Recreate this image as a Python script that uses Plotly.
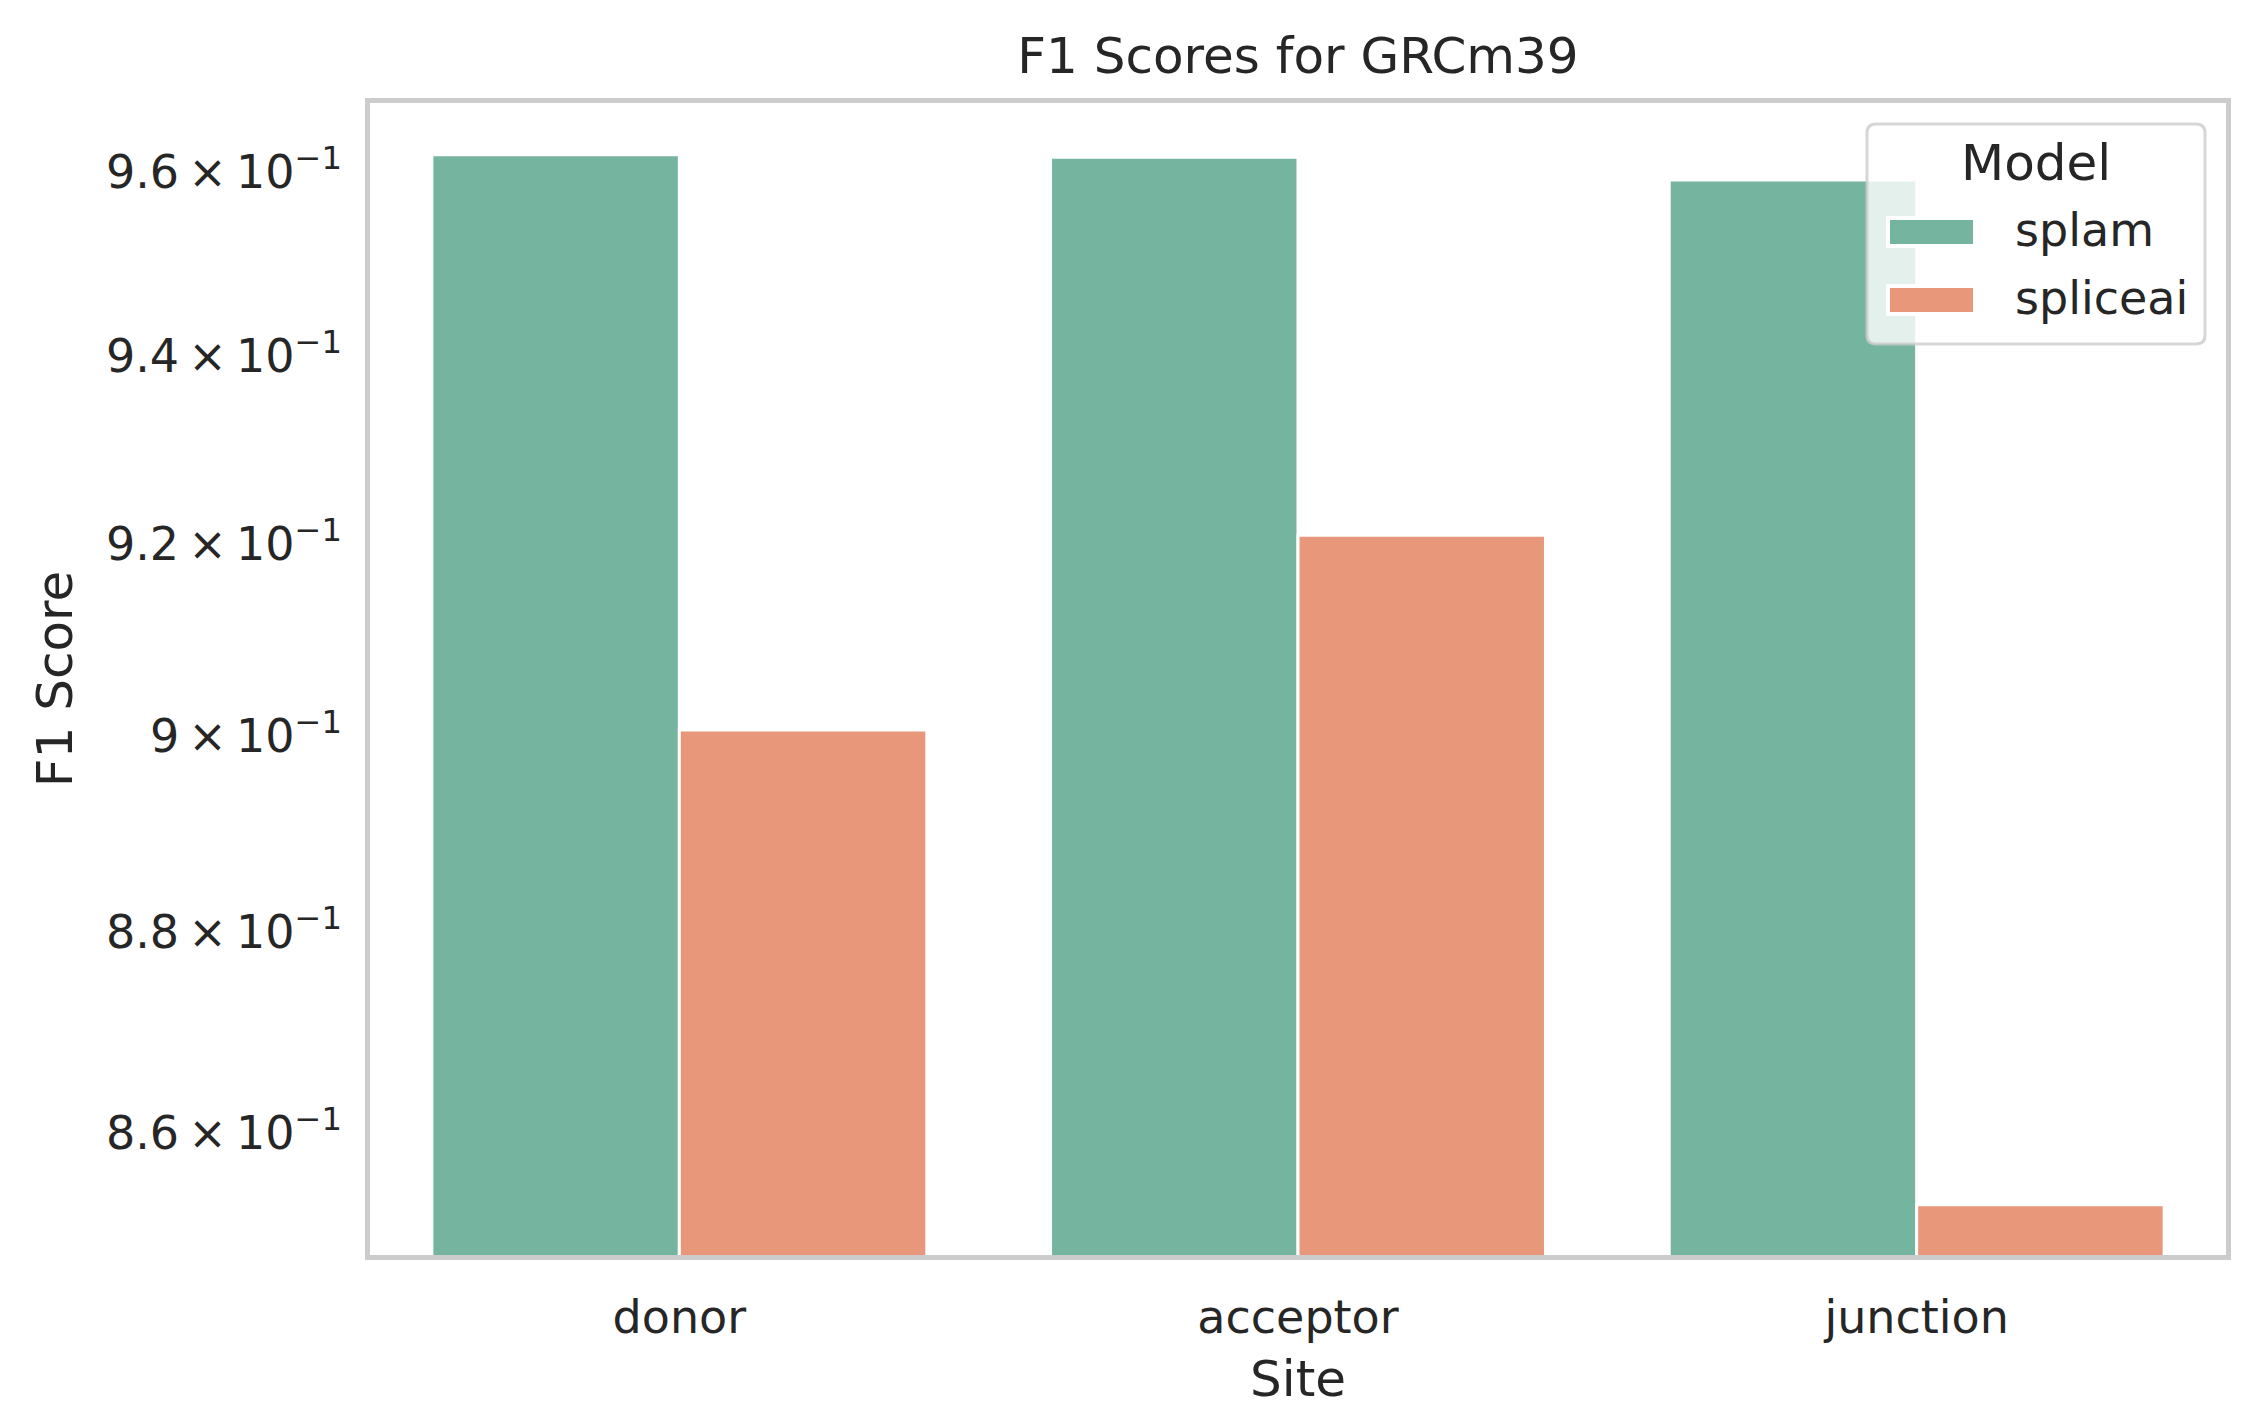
import plotly.graph_objects as go
import math

sites = ["donor", "acceptor", "junction"]
models = ["splam", "spliceai"]
splam_f1 = [0.9619, 0.9616, 0.9591]
spliceai_f1 = [0.9006, 0.9209, 0.8530]
tick_vals = [0.86, 0.88, 0.90, 0.92, 0.94, 0.96]
tick_text = ["8.6\u2009×\u200910<sup>−1</sup>", "8.8\u2009×\u200910<sup>−1</sup>",
             "9\u2009×\u200910<sup>−1</sup>", "9.2\u2009×\u200910<sup>−1</sup>",
             "9.4\u2009×\u200910<sup>−1</sup>", "9.6\u2009×\u200910<sup>−1</sup>"]
y_min, y_max = 0.8481, 0.9676
colors = ["#75b5a0", "#e8977a"]

series = [splam_f1, spliceai_f1]
FONT = "DejaVu Sans"
TXT = "#262626"
W, H = 2249, 1427
L, R, T, B = 362, 31, 95, 180
PW, PH = W - L - R, H - T - B

def px(x):
    return (x - L) / PW

def py(y):
    return (H - B - y) / PH

fig = go.Figure()
for name, vals, c in zip(models, series, colors):
    fig.add_trace(go.Bar(
        x=sites, y=vals, name=name, showlegend=False,
        marker=dict(color=c, line=dict(color="white", width=3)),
    ))

# legend drawn like the reference (large swatches, rounded frame)
lx0, lx1, ly0, ly1, rad = 1859, 2197, 116, 336, 9
rx, ry = rad / PW, rad / PH
X0, X1, Y0, Y1 = px(lx0), px(lx1), py(ly1), py(ly0)
path = (f"M{X0+rx},{Y0} L{X1-rx},{Y0} Q{X1},{Y0} {X1},{Y0+ry} "
        f"L{X1},{Y1-ry} Q{X1},{Y1} {X1-rx},{Y1} L{X0+rx},{Y1} "
        f"Q{X0},{Y1} {X0},{Y1-ry} L{X0},{Y0+ry} Q{X0},{Y0} {X0+rx},{Y0} Z")
shapes = [dict(type="path", xref="paper", yref="paper", path=path,
               fillcolor="rgba(255,255,255,0.8)",
               line=dict(color="rgba(204,204,204,0.8)", width=3), layer="above")]
annotations = [dict(text="Model", xref="paper", yref="paper", x=px(2028), y=py(155),
                    xanchor="center", yanchor="middle", showarrow=False,
                    font=dict(size=50, family=FONT, color=TXT))]
sw_y = [(210, 238), (278, 306)]
for name, c, (s0, s1) in zip(models, colors, sw_y):
    shapes.append(dict(type="rect", xref="paper", yref="paper",
                       x0=px(1880), x1=px(1967), y0=py(s1), y1=py(s0),
                       fillcolor=c, line=dict(color="white", width=4), layer="above"))
    annotations.append(dict(text=name, xref="paper", yref="paper", x=px(2005),
                            y=py((s0 + s1) / 2 - 2), xanchor="left", yanchor="middle",
                            showarrow=False, font=dict(size=46, family=FONT, color=TXT)))

fig.update_layout(
    width=W, height=H,
    margin=dict(l=L, r=R, t=T, b=B),
    paper_bgcolor="white", plot_bgcolor="white",
    font=dict(family=FONT, color=TXT, size=46),
    barmode="group", bargap=0.2, bargroupgap=0,
    title=dict(text="F1 Scores for GRCm39", x=0.5, xanchor="center", xref="paper",
               y=1 - 47 / H, yanchor="middle", yref="container",
               font=dict(size=50, family=FONT, color=TXT)),
    shapes=shapes, annotations=annotations,
    showlegend=False,
)
fig.update_xaxes(
    title=dict(text="Site", font=dict(size=50, family=FONT), standoff=20),
    showline=True, linecolor="#cccccc", linewidth=4.5, mirror=True,
    showgrid=False, zeroline=False,
    ticks="outside", ticklen=18, tickcolor="rgba(0,0,0,0)",
    tickfont=dict(size=46, family=FONT),
    range=[-0.5, 2.5],
)
fig.update_yaxes(
    type="log",
    range=[math.log10(y_min), math.log10(y_max)],
    title=dict(text="F1 Score", font=dict(size=50, family=FONT), standoff=19),
    showline=True, linecolor="#cccccc", linewidth=4.5, mirror=True,
    showgrid=False, zeroline=False,
    tickmode="array", tickvals=tick_vals, ticktext=tick_text,
    ticks="outside", ticklen=14, tickcolor="rgba(0,0,0,0)",
    tickfont=dict(size=46, family=FONT),
)

fig.write_html("out.html")
